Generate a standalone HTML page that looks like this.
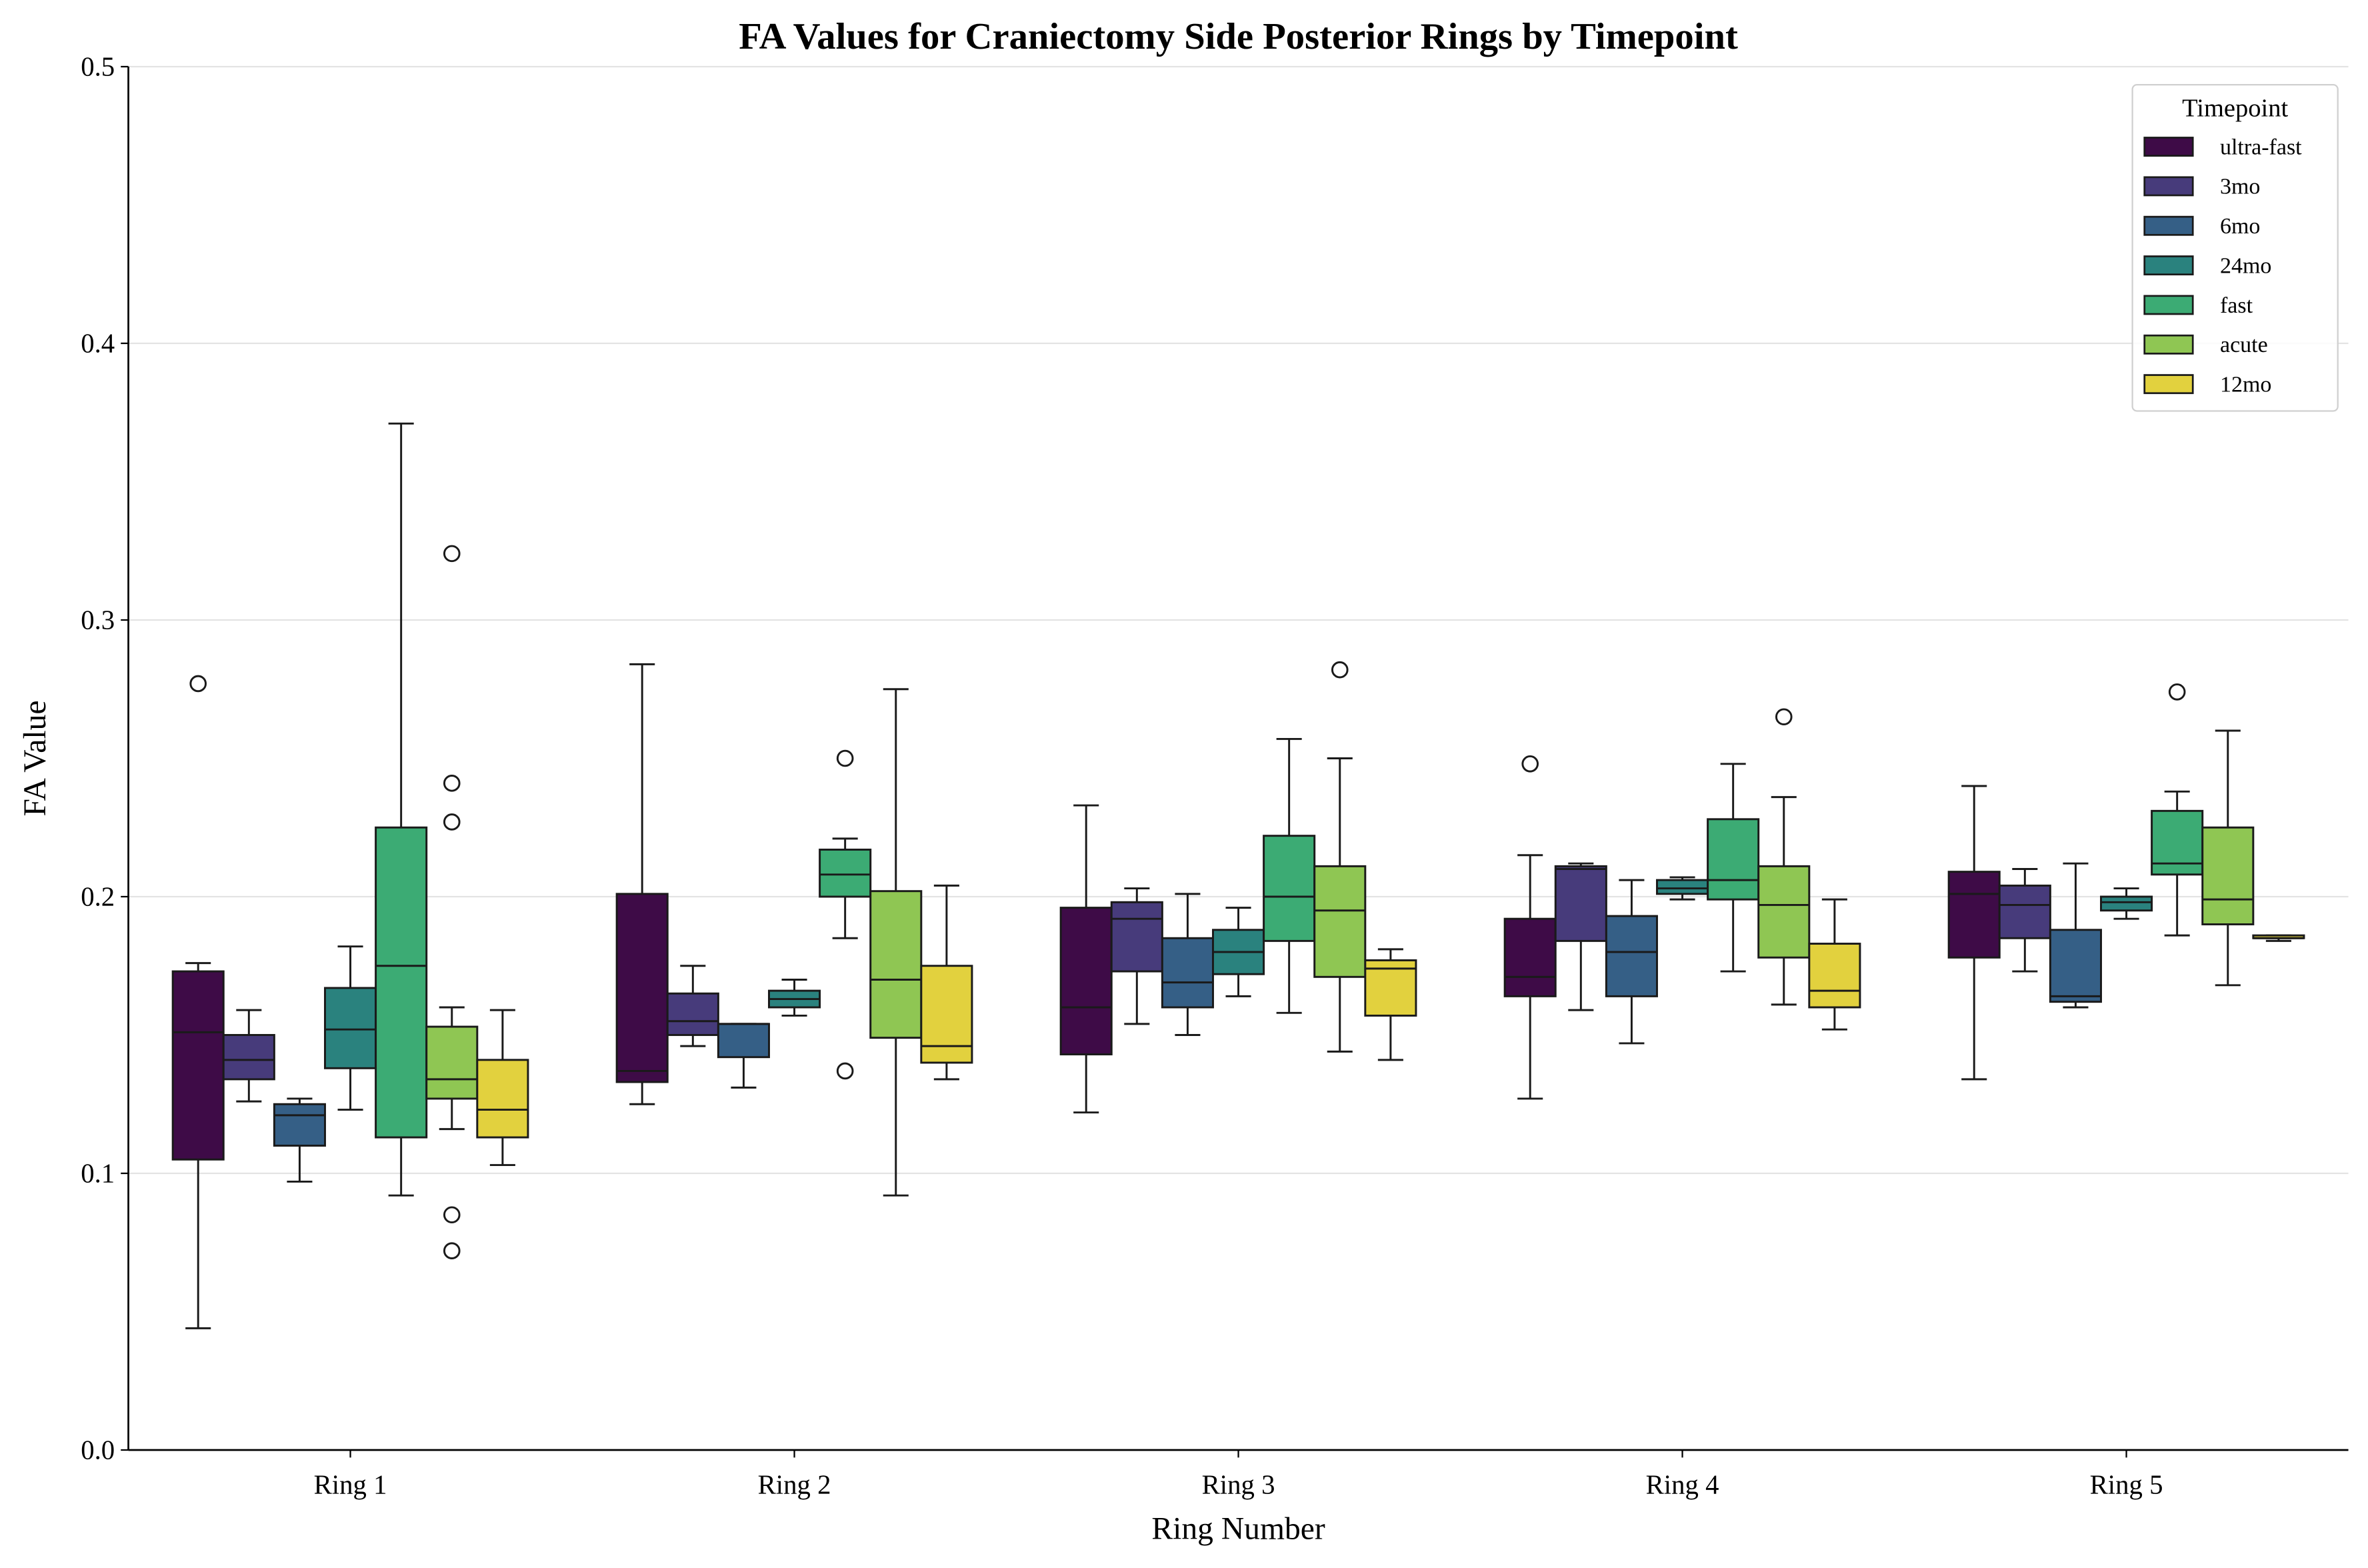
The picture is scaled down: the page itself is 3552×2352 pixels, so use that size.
<!DOCTYPE html>
<html><head><meta charset="utf-8"><style>
html,body{margin:0;padding:0;background:#fff}
svg{display:block}
text{font-family:"Liberation Serif",serif;fill:#000}
</style></head><body>
<svg id="chart" width="3552" height="2352" viewBox="0 0 1568 1038" xmlns="http://www.w3.org/2000/svg">
<text x="820" y="32" text-anchor="middle" font-size="25" font-weight="bold">FA Values for Craniectomy Side Posterior Rings by Timepoint</text>
<g id="grid"></g>
<g id="plot"></g>
<g id="axes"></g>
<text transform="translate(30,502) rotate(-90)" text-anchor="middle" font-size="21">FA Value</text>
<text x="820" y="1019" text-anchor="middle" font-size="21">Ring Number</text>
<g id="legend"></g>
</svg>
<script>
const categories = ["Ring 1","Ring 2","Ring 3","Ring 4","Ring 5"];
const timepoints = ["ultra-fast","3mo","6mo","24mo","fast","acute","12mo"];
const colors = ["#3e0b47","#473b7b","#355f86","#2a827e","#3cab74","#8fc653","#e2d13e"];
const yTicks = [0.0,0.1,0.2,0.3,0.4,0.5];
const yTickLabels = ["0.0","0.1","0.2","0.3","0.4","0.5"];
// [whisker low, q1, median, q3, whisker high] per ring per timepoint
const statsUltraFast = [[0.044,0.105,0.151,0.173,0.176],[0.125,0.133,0.137,0.201,0.284],[0.122,0.143,0.160,0.196,0.233],[0.127,0.164,0.171,0.192,0.215],[0.134,0.178,0.201,0.209,0.240]];
const stats3mo = [[0.126,0.134,0.141,0.150,0.159],[0.146,0.150,0.155,0.165,0.175],[0.154,0.173,0.192,0.198,0.203],[0.159,0.184,0.210,0.211,0.212],[0.173,0.185,0.197,0.204,0.210]];
const stats6mo = [[0.097,0.110,0.121,0.125,0.127],[0.131,0.142,0.154,0.154,0.154],[0.150,0.160,0.169,0.185,0.201],[0.147,0.164,0.180,0.193,0.206],[0.160,0.162,0.164,0.188,0.212]];
const stats24mo = [[0.123,0.138,0.152,0.167,0.182],[0.157,0.160,0.163,0.166,0.170],[0.164,0.172,0.180,0.188,0.196],[0.199,0.201,0.203,0.206,0.207],[0.192,0.195,0.198,0.200,0.203]];
const statsFast = [[0.092,0.113,0.175,0.225,0.371],[0.185,0.200,0.208,0.217,0.221],[0.158,0.184,0.200,0.222,0.257],[0.173,0.199,0.206,0.228,0.248],[0.186,0.208,0.212,0.231,0.238]];
const statsAcute = [[0.116,0.127,0.134,0.153,0.160],[0.092,0.149,0.170,0.202,0.275],[0.144,0.171,0.195,0.211,0.250],[0.161,0.178,0.197,0.211,0.236],[0.168,0.190,0.199,0.225,0.260]];
const stats12mo = [[0.103,0.113,0.123,0.141,0.159],[0.134,0.140,0.146,0.175,0.204],[0.141,0.157,0.174,0.177,0.181],[0.152,0.160,0.166,0.183,0.199],[0.184,0.185,0.185,0.186,0.186]];
const outliersUltraFast = [[0.277],[],[],[0.248],[]];
const outliers3mo = [[],[],[],[],[]];
const outliers6mo = [[],[],[],[],[]];
const outliers24mo = [[],[],[],[],[]];
const outliersFast = [[],[0.250,0.137],[],[],[0.274]];
const outliersAcute = [[0.324,0.241,0.227,0.085,0.072],[],[0.282],[0.265],[]];
const outliers12mo = [[],[],[],[],[]];

const allStats=[statsUltraFast,stats3mo,stats6mo,stats24mo,statsFast,statsAcute,stats12mo];
const allOut=[outliersUltraFast,outliers3mo,outliers6mo,outliers24mo,outliersFast,outliersAcute,outliers12mo];
const NS="http://www.w3.org/2000/svg";
const L=85,R=1555,T=44,B=960,yMax=0.5;
const y=v=>B-(v/yMax)*(B-T);
const step=(R-L)/categories.length;
const xc=i=>L+step*(i+0.5);
const bw=step*0.8/timepoints.length;
function mk(tag,attrs,parent){const e=document.createElementNS(NS,tag);for(const k in attrs)e.setAttribute(k,attrs[k]);parent.appendChild(e);return e;}
const grid=document.getElementById('grid'),plot=document.getElementById('plot'),axes=document.getElementById('axes'),leg=document.getElementById('legend');
yTicks.forEach((t,i)=>{
  const g=mk('line',{x1:L,x2:R,y1:y(t),y2:y(t),stroke:'#e3e3e3','stroke-width':1},grid);
  
  
  const tk=mk('line',{x1:L-5,x2:L,y1:y(t),y2:y(t),stroke:'#000','stroke-width':1},axes);
  
  
  const tx=mk('text',{x:L-9,y:y(t)+6,'text-anchor':'end','font-size':18},axes);
  tx.textContent=yTickLabels[i];
  
  
});
categories.forEach((c,i)=>{
  const tk=mk('line',{x1:xc(i),x2:xc(i),y1:B,y2:B+5,stroke:'#000'},axes);
  
  
  const tx=mk('text',{x:xc(i),y:B+29,'text-anchor':'middle','font-size':18},axes);
  tx.textContent=c;
  
  
});
const sp1=mk('line',{x1:L,x2:L,y1:T,y2:B,stroke:'#000','stroke-width':1.2},axes);


const sp2=mk('line',{x1:L,x2:R,y1:B,y2:B,stroke:'#000','stroke-width':1.2},axes);


categories.forEach((c,i)=>{
  timepoints.forEach((tp,j)=>{
    const s=allStats[j][i];
    const cx=xc(i)-step*0.4+bw*(j+0.5);
    const g=mk('g',{},plot);
    
    
    const st={stroke:'#1a1a1a','stroke-width':1.3};
    mk('line',Object.assign({x1:cx,x2:cx,y1:y(s[0]),y2:y(s[1])},st),g);
    mk('line',Object.assign({x1:cx,x2:cx,y1:y(s[3]),y2:y(s[4])},st),g);
    mk('line',Object.assign({x1:cx-bw/4,x2:cx+bw/4,y1:y(s[0]),y2:y(s[0])},st),g);
    mk('line',Object.assign({x1:cx-bw/4,x2:cx+bw/4,y1:y(s[4]),y2:y(s[4])},st),g);
    mk('rect',Object.assign({x:cx-bw/2,y:y(s[3]),width:bw,height:Math.max(y(s[1])-y(s[3]),0.5),fill:colors[j]},st),g);
    mk('line',Object.assign({x1:cx-bw/2,x2:cx+bw/2,y1:y(s[2]),y2:y(s[2])},st),g);
    allOut[j][i].forEach(o=>{
      const p=mk('circle',{cx:cx,cy:y(o),r:5,fill:'none',stroke:'#1a1a1a','stroke-width':1.3},g);
      
      
    });
  });
});
const lb=mk('rect',{x:1412,y:56,width:136,height:216,rx:3,fill:'#fff','fill-opacity':0.85,stroke:'#d0d0d0'},leg);


const lt=mk('text',{x:1480,y:77,'text-anchor':'middle','font-size':17},leg);
lt.textContent='Timepoint';


timepoints.forEach((tp,j)=>{
  const yy=97+j*26.2;
  const g=mk('g',{},leg);
  
  
  mk('rect',{x:1420,y:yy-6,width:32,height:12,fill:colors[j],stroke:'#1a1a1a','stroke-width':1.2},g);
  const t=mk('text',{x:1470,y:yy+5,'font-size':15},g);
  t.textContent=tp;
});
</script>
</body></html>
